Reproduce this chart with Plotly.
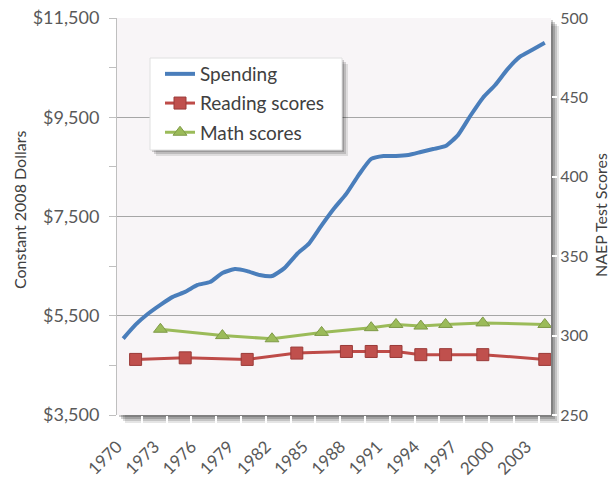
import plotly.graph_objects as go

years = list(range(1970, 2005))
spending = [5040, 5320, 5540, 5720, 5880, 5980, 6120, 6180, 6360, 6440, 6400, 6320,
            6300, 6460, 6740, 6960, 7320, 7660, 7960, 8340, 8660, 8720, 8720, 8740,
            8800, 8860, 8920, 9140, 9530, 9890, 10150, 10470, 10720, 10860, 11000]
reading_years = [1971, 1975, 1980, 1984, 1988, 1990, 1992, 1994, 1996, 1999, 2004]
reading = [285, 286, 285, 289, 290, 290, 290, 288, 288, 288, 285]
math_years = [1973, 1978, 1982, 1986, 1990, 1992, 1994, 1996, 1999, 2004]
math = [304, 300, 298, 302, 305, 307, 306, 307, 308, 307]
tick_years = list(range(1970, 2004, 3))
tick_labels = [str(y) for y in tick_years]

W, H = 610, 481
L, R, T, B = 117, 551, 18, 415
PW, PH = R - L, B - T

def px(x):
    return (x - L) / PW

def py(y):
    return (B - y) / PH

FONT = "Lato"
TXT = "#595959"

fig = go.Figure()
fig.add_trace(go.Scatter(
    x=years, y=spending, name="Spending", mode="lines", legendgroup="a",
    line=dict(color="#4a7ebb", width=4, shape="spline", smoothing=0.5)))
fig.add_trace(go.Scatter(
    x=reading_years, y=reading, name="Reading scores", mode="lines+markers",
    yaxis="y2", legendgroup="b",
    line=dict(color="#be4b48", width=3),
    marker=dict(symbol="square", size=12, color="#c0504d",
                line=dict(color="#9a3a38", width=1))))
fig.add_trace(go.Scatter(
    x=math_years, y=math, name="Math scores", mode="lines+markers",
    yaxis="y2", legendgroup="c",
    line=dict(color="#9bbb59", width=3),
    marker=dict(symbol="triangle-up", size=12, color="#9bbb59",
                line=dict(color="#7f9a48", width=1))))

shapes = []
# plot area shadow
for off, op in [(8, 0.10), (6, 0.14), (4, 0.18), (2, 0.2)]:
    shapes.append(dict(type="rect", xref="paper", yref="paper", layer="below",
                       x0=px(L + off), x1=px(R + off), y0=py(B + off), y1=py(T + off),
                       fillcolor=f"rgba(0,0,0,{op})", line=dict(width=0)))
shapes.append(dict(type="rect", xref="paper", yref="paper", layer="below",
                   x0=0, x1=1, y0=0, y1=1, fillcolor="#f8f5f7",
                   line=dict(width=0)))
# legend box with shadow
lx0, lx1, ly0, ly1 = 150, 342, 58, 150
for off, op in [(6, 0.10), (4, 0.15), (2, 0.18)]:
    shapes.append(dict(type="rect", xref="paper", yref="paper", layer="above",
                       x0=px(lx0 + off), x1=px(lx1 + off), y0=py(ly1 + off), y1=py(ly0 + off),
                       fillcolor=f"rgba(0,0,0,{op})", line=dict(width=0)))
shapes.append(dict(type="rect", xref="paper", yref="paper", layer="above",
                   x0=px(lx0), x1=px(lx1), y0=py(ly1), y1=py(ly0),
                   fillcolor="white", line=dict(color="#e0e0e0", width=1)))

fig.update_layout(
    width=W, height=H,
    margin=dict(l=L, r=W - R, t=T, b=H - B, autoexpand=False),
    paper_bgcolor="white", plot_bgcolor="rgba(0,0,0,0)",
    font=dict(family=FONT, color=TXT),
    showlegend=True,
    legend=dict(x=px(160), y=py(55), xanchor="left", yanchor="top",
                bgcolor="rgba(0,0,0,0)", tracegroupgap=1.5,
                font=dict(family=FONT, size=19, color="#404040")),
    shapes=shapes,
    xaxis=dict(range=[1969.5, 2004.5], tickvals=tick_years, ticktext=tick_labels,
               tickangle=-45, ticks="outside", ticklen=8, tickcolor="rgba(0,0,0,0)",
               ticklabelstandoff=6, ticklabelshift=-6,
               showgrid=False, zeroline=False,
               showline=False, tickfont=dict(size=17, color=TXT),
               minor=dict(ticks="outside", tick0=1969.5, dtick=2, ticklen=7,
                          tickcolor="white", tickwidth=2, showgrid=False)),
    yaxis=dict(range=[3500, 11500], tick0=3500, dtick=2000, tickprefix="$",
               tickformat=",d", showgrid=True, gridcolor="#a6a6a6", gridwidth=1,
               zeroline=False, showline=True, linecolor="#bfbfbf", linewidth=1,
               ticks="outside", ticklen=7, tickcolor="#bfbfbf",
               ticklabelstandoff=6,
               tickfont=dict(size=18, color=TXT),
               minor=dict(ticks="outside", dtick=1000, tick0=3500, ticklen=7,
                          tickcolor="#bfbfbf", showgrid=False)),
    yaxis2=dict(range=[250, 500], tick0=250, dtick=50, overlaying="y", side="right",
                showgrid=False, zeroline=False, showline=False,
                ticks="outside", ticklen=5, tickcolor="white", tickwidth=2,
                tickfont=dict(size=16, color=TXT)),
    annotations=[
        dict(text="Constant 2008 Dollars", xref="paper", yref="paper",
             x=px(19), y=py(210), textangle=-90, showarrow=False,
             xanchor="center", yanchor="middle",
             font=dict(family=FONT, size=16, color="#404040")),
        dict(text="NAEP Test Scores", xref="paper", yref="paper",
             x=px(600), y=py(215), textangle=-90, showarrow=False,
             xanchor="center", yanchor="middle",
             font=dict(family=FONT, size=16, color="#404040")),
    ],
)

fig.write_html("out.html", config={"displayModeBar": False},
               post_script="document.body.style.margin='0px';")
